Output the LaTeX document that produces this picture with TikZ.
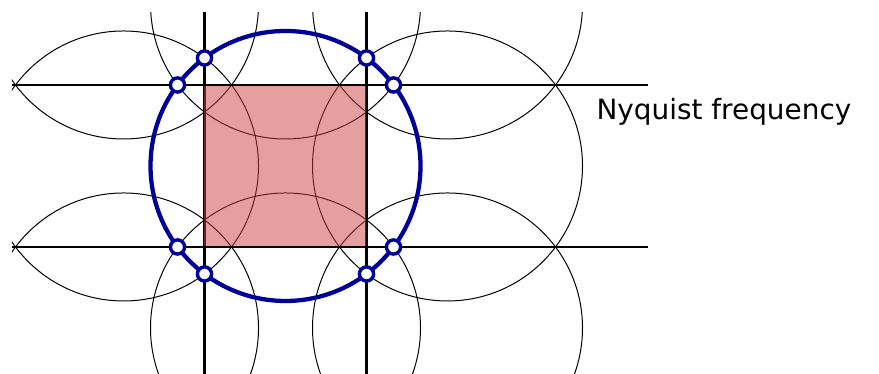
\documentclass[tikz,border=0pt]{standalone}
\usepackage{fontspec}
\setmainfont{DejaVu Sans}
\usepackage{tikz}
\definecolor{nqblue}{RGB}{0,0,153}
\definecolor{nqred}{RGB}{204,64,64}

\begin{document}
\begin{tikzpicture}[every node/.style={font=\fontsize{9.8}{12}\selectfont}, rep/.style={draw, line width=0.35pt}, ax/.style={draw, line width=1pt}, band/.style={fill=nqred, fill opacity=0.5}, base/.style={draw=nqblue, line width=1.5pt}, smp/.style={draw=nqblue, circle, fill=white, line width=1.2pt, minimum size=1.75mm, inner sep=0pt}]
	\useasboundingbox (-3.525,-2.568) rectangle (7.327,2.049);
	\begin{scope}
		\clip (-3.377,-2.6) rectangle (4.475,1.901);
		\foreach \i/\j in {-1/-1,-1/0,-1/1,0/-1,0/1,1/-1,1/0,1/1} {\draw[rep] (2*\i,2*\j) circle (5/3);}
	\end{scope}
	\foreach \y in {-1,1} {\draw[ax] (-3.377,\y) -- (4.475,\y);}
	\foreach \x in {-1,1} {\draw[ax] (\x,1.901) -- (\x,-2.6);}
	\fill[band] (-1.012,-0.985) rectangle (0.988,0.985);
	\draw[base] (0,0) circle (5/3);
	\foreach \p/\q [count=\k] in {1/1.3333, 1.3333/1, 1.3333/-1, 1/-1.3333, -1/-1.3333, -1.3333/-1, -1.3333/1, -1/1.3333} {\node[smp] (s\k) at (\p,\q) {};}
	\node[anchor=base west, inner sep=0pt] (lbl) at (3.833,0.58) {Nyquist frequency};
\end{tikzpicture}
\end{document}
